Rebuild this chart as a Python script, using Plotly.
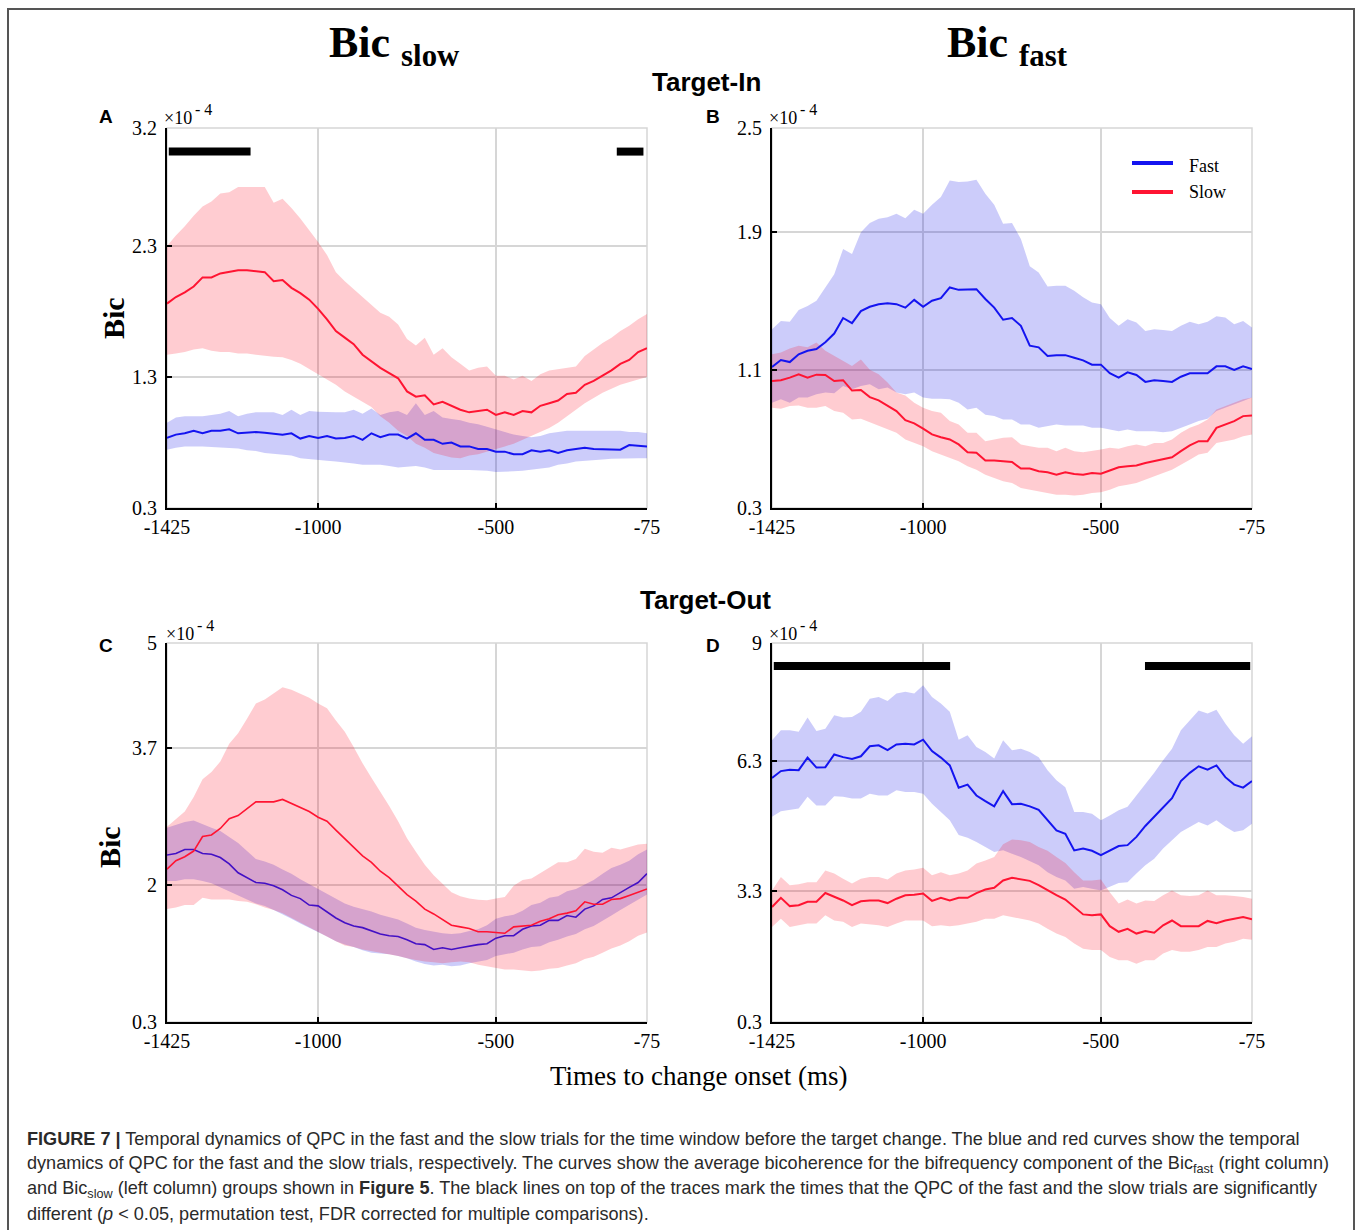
import plotly.graph_objects as go

W, H = 1358, 1230
def X(px): return px / W
def Y(py): return 1 - py / H

# ---------------- data ----------------
time_ms = list(range(-1425, -74, 25))  # 55 samples
x_ticks = [-1425, -1000, -500, -75]
x_tick_labels = ["-1425", "-1000", "-500", "-75"]

# Panel A (Target-In, Bic slow)
a_fast_mean = [0.835,0.86,0.87,0.89,0.87,0.89,0.89,0.90,0.87,0.875,0.88,0.875,0.87,0.86,0.87,0.83,0.85,0.835,0.85,0.83,0.835,0.85,0.82,0.87,0.84,0.86,0.86,0.83,0.87,0.82,0.82,0.79,0.80,0.77,0.77,0.75,0.75,0.73,0.73,0.71,0.71,0.74,0.73,0.74,0.72,0.74,0.75,0.76,0.75,0.75,0.745,0.745,0.78,0.775,0.77]
a_fast_upper = [0.95,0.99,1.00,1.00,1.00,1.01,1.02,1.04,1.00,1.02,1.03,1.03,1.03,1.01,1.05,1.01,1.04,1.035,1.03,1.03,1.03,1.05,1.02,1.06,1.01,1.03,1.04,1.01,1.10,1.01,1.04,0.99,0.98,0.97,0.95,0.94,0.92,0.90,0.88,0.86,0.85,0.84,0.85,0.87,0.88,0.89,0.89,0.89,0.89,0.89,0.89,0.89,0.88,0.88,0.87]
a_fast_lower = [0.745,0.76,0.77,0.77,0.77,0.77,0.765,0.76,0.755,0.74,0.735,0.72,0.71,0.705,0.70,0.68,0.67,0.665,0.66,0.655,0.65,0.64,0.63,0.63,0.63,0.62,0.61,0.615,0.62,0.61,0.59,0.59,0.59,0.59,0.59,0.59,0.585,0.575,0.575,0.58,0.585,0.59,0.60,0.61,0.63,0.64,0.655,0.66,0.665,0.67,0.675,0.68,0.68,0.68,0.68]
a_slow_mean = [1.86,1.91,1.945,1.99,2.06,2.06,2.09,2.10,2.115,2.115,2.11,2.10,2.03,2.04,1.98,1.94,1.89,1.82,1.74,1.65,1.60,1.55,1.47,1.42,1.37,1.33,1.29,1.19,1.15,1.16,1.09,1.11,1.08,1.05,1.03,1.04,1.05,1.01,1.03,1.01,1.04,1.03,1.08,1.10,1.12,1.17,1.18,1.24,1.27,1.31,1.35,1.40,1.43,1.49,1.52]
a_slow_upper = [2.30,2.38,2.45,2.53,2.60,2.64,2.70,2.71,2.75,2.75,2.75,2.75,2.63,2.66,2.59,2.51,2.42,2.33,2.23,2.10,2.03,1.97,1.91,1.85,1.79,1.76,1.70,1.59,1.54,1.60,1.47,1.52,1.45,1.40,1.35,1.37,1.38,1.31,1.31,1.28,1.31,1.27,1.32,1.35,1.36,1.37,1.38,1.46,1.51,1.56,1.60,1.65,1.69,1.74,1.78]
a_slow_lower = [1.47,1.48,1.49,1.51,1.52,1.50,1.49,1.49,1.48,1.48,1.47,1.46,1.455,1.45,1.43,1.40,1.36,1.32,1.28,1.24,1.19,1.15,1.11,1.07,1.00,0.95,0.89,0.85,0.79,0.76,0.72,0.70,0.685,0.68,0.70,0.71,0.73,0.75,0.77,0.79,0.82,0.85,0.88,0.91,0.95,1.00,1.05,1.10,1.14,1.18,1.21,1.24,1.26,1.28,1.30]
a_sig_intervals = [(-1420, -1190), (-160, -85)]
a_sig_level = 3.02

# Panel B (Target-In, Bic fast)
b_fast_mean = [1.116,1.157,1.145,1.19,1.21,1.22,1.26,1.31,1.40,1.37,1.44,1.465,1.48,1.486,1.48,1.46,1.505,1.465,1.50,1.515,1.577,1.563,1.565,1.567,1.51,1.46,1.39,1.40,1.355,1.24,1.23,1.18,1.185,1.185,1.17,1.155,1.13,1.13,1.08,1.055,1.085,1.07,1.03,1.04,1.035,1.03,1.06,1.08,1.08,1.08,1.12,1.12,1.10,1.12,1.105]
b_fast_upper = [1.335,1.383,1.378,1.447,1.47,1.50,1.577,1.654,1.80,1.77,1.896,1.95,1.974,1.983,2.003,1.978,2.026,2.003,2.055,2.10,2.196,2.187,2.19,2.20,2.12,2.055,1.945,1.95,1.858,1.70,1.664,1.583,1.587,1.587,1.558,1.52,1.49,1.48,1.40,1.355,1.393,1.374,1.325,1.335,1.331,1.325,1.355,1.378,1.364,1.378,1.41,1.403,1.364,1.383,1.345]
b_fast_lower = [0.91,0.93,0.91,0.94,0.94,0.958,0.968,0.964,1.006,0.987,1.006,1.016,0.987,0.997,0.968,0.958,0.968,0.94,0.933,0.933,0.93,0.91,0.87,0.88,0.84,0.832,0.813,0.813,0.784,0.784,0.764,0.774,0.784,0.778,0.778,0.778,0.764,0.764,0.755,0.745,0.755,0.745,0.745,0.745,0.739,0.745,0.764,0.784,0.803,0.817,0.861,0.88,0.90,0.92,0.94]
b_slow_mean = [1.035,1.04,1.055,1.074,1.055,1.072,1.07,1.035,1.04,0.98,0.983,0.942,0.923,0.894,0.861,0.809,0.79,0.76,0.726,0.71,0.697,0.668,0.623,0.62,0.575,0.575,0.571,0.567,0.528,0.528,0.513,0.507,0.493,0.507,0.497,0.493,0.503,0.499,0.517,0.536,0.542,0.546,0.561,0.571,0.58,0.594,0.629,0.662,0.687,0.687,0.764,0.784,0.803,0.832,0.836]
b_slow_upper = [1.19,1.20,1.223,1.24,1.23,1.258,1.21,1.18,1.152,1.122,1.16,1.10,1.074,1.026,0.968,0.952,0.91,0.88,0.861,0.851,0.803,0.784,0.735,0.735,0.687,0.697,0.706,0.71,0.668,0.658,0.649,0.649,0.629,0.649,0.629,0.623,0.629,0.639,0.649,0.643,0.658,0.668,0.658,0.677,0.677,0.697,0.735,0.764,0.784,0.813,0.87,0.89,0.91,0.929,0.94]
b_slow_lower = [0.88,0.874,0.89,0.894,0.88,0.88,0.89,0.861,0.851,0.813,0.817,0.793,0.774,0.755,0.735,0.697,0.677,0.658,0.629,0.61,0.59,0.571,0.542,0.522,0.493,0.474,0.455,0.445,0.416,0.406,0.397,0.387,0.377,0.377,0.372,0.377,0.387,0.391,0.406,0.426,0.435,0.445,0.464,0.484,0.503,0.522,0.552,0.58,0.61,0.62,0.677,0.687,0.697,0.716,0.726]

# Panel C (Target-Out, Bic slow)
c_fast_mean = [2.37,2.39,2.44,2.44,2.39,2.38,2.34,2.26,2.15,2.09,2.03,2.02,1.99,1.94,1.87,1.83,1.75,1.74,1.66,1.59,1.53,1.49,1.47,1.43,1.39,1.37,1.36,1.32,1.27,1.26,1.20,1.22,1.20,1.22,1.24,1.26,1.27,1.34,1.37,1.37,1.45,1.49,1.50,1.56,1.56,1.62,1.60,1.70,1.74,1.82,1.84,1.91,1.97,2.03,2.14]
c_fast_upper = [2.71,2.745,2.78,2.80,2.75,2.71,2.67,2.59,2.52,2.42,2.32,2.29,2.25,2.19,2.14,2.07,2.01,1.94,1.88,1.83,1.77,1.73,1.70,1.67,1.63,1.60,1.57,1.52,1.47,1.44,1.42,1.40,1.39,1.40,1.43,1.45,1.50,1.58,1.61,1.63,1.68,1.75,1.78,1.84,1.86,1.92,1.95,2.01,2.06,2.14,2.21,2.25,2.30,2.38,2.44]
c_fast_lower = [2.05,2.05,2.07,2.07,2.05,2.02,1.98,1.92,1.87,1.82,1.77,1.74,1.69,1.64,1.58,1.52,1.46,1.41,1.36,1.30,1.26,1.23,1.19,1.16,1.15,1.14,1.12,1.09,1.05,1.02,1.00,1.01,0.99,1.00,1.03,1.05,1.07,1.12,1.14,1.16,1.20,1.23,1.24,1.29,1.32,1.36,1.39,1.45,1.49,1.56,1.62,1.69,1.75,1.82,1.88]
c_slow_mean = [2.195,2.30,2.35,2.42,2.60,2.62,2.70,2.82,2.86,2.95,3.03,3.03,3.03,3.06,3.01,2.95,2.91,2.84,2.79,2.68,2.57,2.46,2.36,2.28,2.17,2.09,1.99,1.88,1.80,1.70,1.64,1.57,1.50,1.48,1.46,1.42,1.42,1.41,1.40,1.48,1.49,1.50,1.55,1.58,1.63,1.65,1.68,1.79,1.76,1.76,1.82,1.83,1.87,1.91,1.95]
c_slow_upper = [2.72,2.82,2.91,3.09,3.31,3.40,3.53,3.75,3.88,4.06,4.25,4.30,4.37,4.45,4.42,4.37,4.32,4.25,4.19,4.04,3.90,3.71,3.51,3.33,3.16,2.98,2.79,2.58,2.41,2.25,2.12,2.02,1.91,1.86,1.83,1.815,1.81,1.83,1.85,1.99,2.06,2.08,2.15,2.22,2.28,2.28,2.32,2.45,2.41,2.40,2.46,2.44,2.47,2.50,2.51]
c_slow_lower = [1.70,1.72,1.75,1.75,1.84,1.82,1.82,1.82,1.80,1.79,1.76,1.72,1.69,1.65,1.59,1.53,1.47,1.42,1.36,1.30,1.25,1.23,1.20,1.18,1.16,1.14,1.12,1.09,1.07,1.05,1.04,1.03,1.04,1.05,1.04,1.01,0.99,0.97,0.95,0.95,0.94,0.93,0.94,0.96,0.97,1.00,1.03,1.08,1.11,1.16,1.21,1.25,1.30,1.37,1.41]

# Panel D (Target-Out, Bic fast)
d_fast_mean = [5.90,6.06,6.09,6.08,6.37,6.14,6.15,6.44,6.38,6.34,6.40,6.63,6.65,6.54,6.67,6.69,6.67,6.78,6.52,6.37,6.19,5.68,5.75,5.50,5.37,5.25,5.60,5.30,5.31,5.25,5.17,4.93,4.70,4.62,4.24,4.28,4.23,4.13,4.24,4.34,4.36,4.55,4.80,5.02,5.24,5.44,5.83,6.02,6.17,6.09,6.19,5.92,5.75,5.68,5.83]
d_fast_upper = [6.77,7.00,7.00,6.96,7.29,6.98,7.03,7.34,7.29,7.30,7.42,7.72,7.76,7.67,7.84,7.88,7.84,8.03,7.76,7.61,7.42,6.78,6.88,6.61,6.50,6.35,6.77,6.54,6.57,6.50,6.38,6.08,5.85,5.69,5.12,5.12,5.08,4.93,5.04,5.16,5.24,5.50,5.77,6.02,6.31,6.57,7.00,7.23,7.45,7.38,7.47,7.15,6.88,6.69,6.86]
d_fast_lower = [5.01,5.14,5.17,5.20,5.47,5.27,5.27,5.48,5.47,5.43,5.43,5.54,5.50,5.50,5.62,5.58,5.58,5.54,5.31,5.12,4.93,4.59,4.53,4.43,4.32,4.20,4.24,4.16,4.09,4.00,3.90,3.74,3.63,3.55,3.36,3.40,3.36,3.32,3.40,3.49,3.51,3.71,3.90,4.05,4.28,4.47,4.66,4.78,4.89,4.81,4.93,4.78,4.66,4.70,4.85]
d_slow_mean = [2.94,3.15,2.96,2.98,3.06,3.06,3.26,3.17,3.09,2.98,3.07,3.09,3.09,3.03,3.13,3.21,3.22,3.25,3.08,3.15,3.09,3.15,3.15,3.26,3.34,3.38,3.55,3.61,3.58,3.54,3.44,3.32,3.21,3.11,2.94,2.77,2.75,2.77,2.50,2.37,2.44,2.33,2.39,2.35,2.52,2.63,2.50,2.50,2.50,2.62,2.57,2.63,2.67,2.71,2.66]
d_slow_upper = [3.32,3.63,3.44,3.46,3.51,3.51,3.78,3.71,3.59,3.48,3.59,3.63,3.63,3.57,3.71,3.78,3.80,3.84,3.67,3.74,3.67,3.71,3.78,3.94,4.01,4.09,4.38,4.49,4.47,4.43,4.32,4.23,4.09,3.95,3.74,3.55,3.55,3.57,3.28,3.02,3.11,3.02,3.09,3.08,3.21,3.32,3.21,3.19,3.21,3.32,3.21,3.21,3.19,3.17,3.13]
d_slow_lower = [2.48,2.67,2.48,2.52,2.56,2.56,2.75,2.63,2.60,2.48,2.56,2.54,2.52,2.48,2.56,2.63,2.63,2.63,2.50,2.52,2.50,2.52,2.56,2.60,2.67,2.67,2.75,2.71,2.67,2.63,2.56,2.44,2.33,2.25,2.10,1.98,1.95,1.95,1.79,1.72,1.72,1.64,1.72,1.72,1.87,1.95,1.91,1.91,1.95,2.02,2.02,2.10,2.14,2.21,2.19]
d_sig_intervals = [(-1420, -924), (-376, -80)]
d_sig_level = 8.47

# y-axis ticks per panel
a_y_ticks = [0.3, 1.3, 2.3, 3.2]
b_y_ticks = [0.3, 1.1, 1.9, 2.5]
c_y_ticks = [0.3, 2, 3.7, 5]
d_y_ticks = [0.3, 3.3, 6.3, 9]

# ---------------- styling ----------------
BLUE = "#1414f0"
RED = "#ff1432"
BLUE_FILL = "rgba(0,0,230,0.2)"
RED_FILL = "rgba(255,0,25,0.2)"
SERIF = "Liberation Serif"
SANS = "Liberation Sans"
GRID = "#d6d6d6"

fig = go.Figure()

def band(ax, upper, lower, fill):
    xs = time_ms + time_ms[::-1]
    ys = list(upper) + list(lower)[::-1]
    fig.add_trace(go.Scatter(x=xs, y=ys, fill="toself", fillcolor=fill,
                             line=dict(width=0), mode="lines", hoverinfo="skip",
                             showlegend=False, xaxis="x" + ax, yaxis="y" + ax))

def line(ax, ys, color, width):
    fig.add_trace(go.Scatter(x=time_ms, y=ys, mode="lines",
                             line=dict(color=color, width=width),
                             showlegend=False, xaxis="x" + ax, yaxis="y" + ax))

def sig(ax, intervals, level):
    xs, ys = [], []
    for a, b in intervals:
        xs += [a, b, None]
        ys += [level, level, None]
    fig.add_trace(go.Scatter(x=xs, y=ys, mode="lines",
                             line=dict(color="black", width=8),
                             showlegend=False, xaxis="x" + ax, yaxis="y" + ax))

# Panel A
band("1", a_fast_upper, a_fast_lower, BLUE_FILL)
band("1", a_slow_upper, a_slow_lower, RED_FILL)
line("1", a_fast_mean, BLUE, 2)
line("1", a_slow_mean, RED, 2)
sig("1", a_sig_intervals, a_sig_level)
# Panel B
band("2", b_fast_upper, b_fast_lower, BLUE_FILL)
band("2", b_slow_upper, b_slow_lower, RED_FILL)
line("2", b_fast_mean, BLUE, 2)
line("2", b_slow_mean, RED, 2)
# Panel C (blue line sits under the red band)
band("3", c_fast_upper, c_fast_lower, BLUE_FILL)
line("3", c_fast_mean, BLUE, 1.6)
band("3", c_slow_upper, c_slow_lower, RED_FILL)
line("3", c_slow_mean, RED, 1.6)
# Panel D
band("4", d_fast_upper, d_fast_lower, BLUE_FILL)
band("4", d_slow_upper, d_slow_lower, RED_FILL)
line("4", d_fast_mean, BLUE, 2)
line("4", d_slow_mean, RED, 2)
sig("4", d_sig_intervals, d_sig_level)

# ---------------- axes ----------------
panels = {
    "1": ((167, 647), (128, 508), a_y_ticks),
    "2": ((772, 1252), (128, 508), b_y_ticks),
    "3": ((167, 647), (643, 1022), c_y_ticks),
    "4": ((772, 1252), (643, 1022), d_y_ticks),
}
layout_axes = {}
shapes = []
for k, ((x0, x1), (y0, y1), yt) in panels.items():
    xname = "xaxis" if k == "1" else "xaxis" + k
    yname = "yaxis" if k == "1" else "yaxis" + k
    layout_axes[xname] = dict(
        domain=[X(x0), X(x1)], anchor="y" + ("" if k == "1" else k),
        range=[-1425, -75], tickvals=x_ticks, ticktext=x_tick_labels,
        showgrid=True, gridcolor=GRID, gridwidth=1.5, zeroline=False,
        showline=True, linecolor="black", linewidth=2, automargin=False,
        ticks="inside", ticklen=5, tickwidth=1.5, tickcolor="black",
        ticklabelstandoff=0,
        tickfont=dict(family=SERIF, size=20, color="black"),
    )
    layout_axes[yname] = dict(
        domain=[Y(y1), Y(y0)], anchor="x" + ("" if k == "1" else k),
        range=[yt[0], yt[-1]], tickvals=yt, ticktext=[f"{v:g}" for v in yt],
        showgrid=True, gridcolor=GRID, gridwidth=1.5, zeroline=False,
        showline=True, linecolor="black", linewidth=2, automargin=False,
        ticks="inside", ticklen=5, tickwidth=1.5, tickcolor="black",
        ticklabelstandoff=4,
        tickfont=dict(family=SERIF, size=20, color="black"),
    )
    shapes.append(dict(type="rect", xref="paper", yref="paper",
                       x0=X(x0), x1=X(x1), y0=Y(y1), y1=Y(y0),
                       line=dict(color=GRID, width=1.5), layer="below"))

# outer border
shapes.append(dict(type="rect", xref="paper", yref="paper",
                   x0=X(8), x1=X(1354), y0=-0.05, y1=Y(9),
                   line=dict(color="#555555", width=2)))
# legend samples (panel B)
shapes.append(dict(type="line", xref="paper", yref="paper",
                   x0=X(1132), x1=X(1173), y0=Y(163), y1=Y(163),
                   line=dict(color=BLUE, width=4)))
shapes.append(dict(type="line", xref="paper", yref="paper",
                   x0=X(1132), x1=X(1173), y0=Y(192), y1=Y(192),
                   line=dict(color=RED, width=4)))

ann = []
def A(px, py, text, size, family=SERIF, xanchor="center", yanchor="middle",
      angle=0, color="black"):
    ann.append(dict(x=X(px), y=Y(py), xref="paper", yref="paper", text=text,
                    showarrow=False, xanchor=xanchor, yanchor=yanchor,
                    textangle=angle, font=dict(family=family, size=size, color=color)))

A(394, 46, "<b>Bic <sub>slow</sub></b>", 44)
A(1007, 46, "<b>Bic <sub>fast</sub></b>", 44)
A(706, 82, "<b>Target-In</b>", 26, family=SANS)
A(705, 600, "<b>Target-Out</b>", 26, family=SANS)
for letter, px, py in [("A", 106, 116), ("B", 713, 116), ("C", 106, 645), ("D", 713, 645)]:
    A(px, py, f"<b>{letter}</b>", 19, family=SANS)
for px, py in [(162, 118), (767, 118), (164, 634), (767, 634)]:
    A(px, py, "×10", 18, xanchor="left")
    A(px + 31, py - 9, "- 4", 16, xanchor="left")
A(113, 318, "<b>Bic</b>", 30, angle=-90)
A(109, 847, "<b>Bic</b>", 30, angle=-90)
A(699, 1076, "Times to change onset (ms)", 27)
A(1187, 166, "Fast", 18, xanchor="left")
A(1187, 192, "Slow", 18, xanchor="left")

cap = [
    "<b>FIGURE 7 |</b> Temporal dynamics of QPC in the fast and the slow trials for the time window before the target change. The blue and red curves show the temporal",
    "dynamics of QPC for the fast and the slow trials, respectively. The curves show the average bicoherence for the bifrequency component of the Bic<sub>fast</sub> (right column)",
    "and Bic<sub>slow</sub> (left column) groups shown in <b>Figure 5</b>. The black lines on top of the traces mark the times that the QPC of the fast and the slow trials are significantly",
    "different (<i>p</i> &lt; 0.05, permutation test, FDR corrected for multiple comparisons).",
]
for i, t in enumerate(cap):
    A(25, 1139 + 25 * i, t, 18.1, family=SANS, xanchor="left", color="#2a2a2a")

fig.update_layout(
    width=W, height=H, autosize=False,
    margin=dict(l=0, r=0, t=0, b=0, pad=0, autoexpand=False),
    paper_bgcolor="white", plot_bgcolor="white",
    showlegend=False, shapes=shapes, annotations=ann,
    **layout_axes,
)
fig.write_html("out.html", config={"displayModeBar": False},
               post_script="document.body.style.margin='0';document.body.style.overflow='hidden';")
